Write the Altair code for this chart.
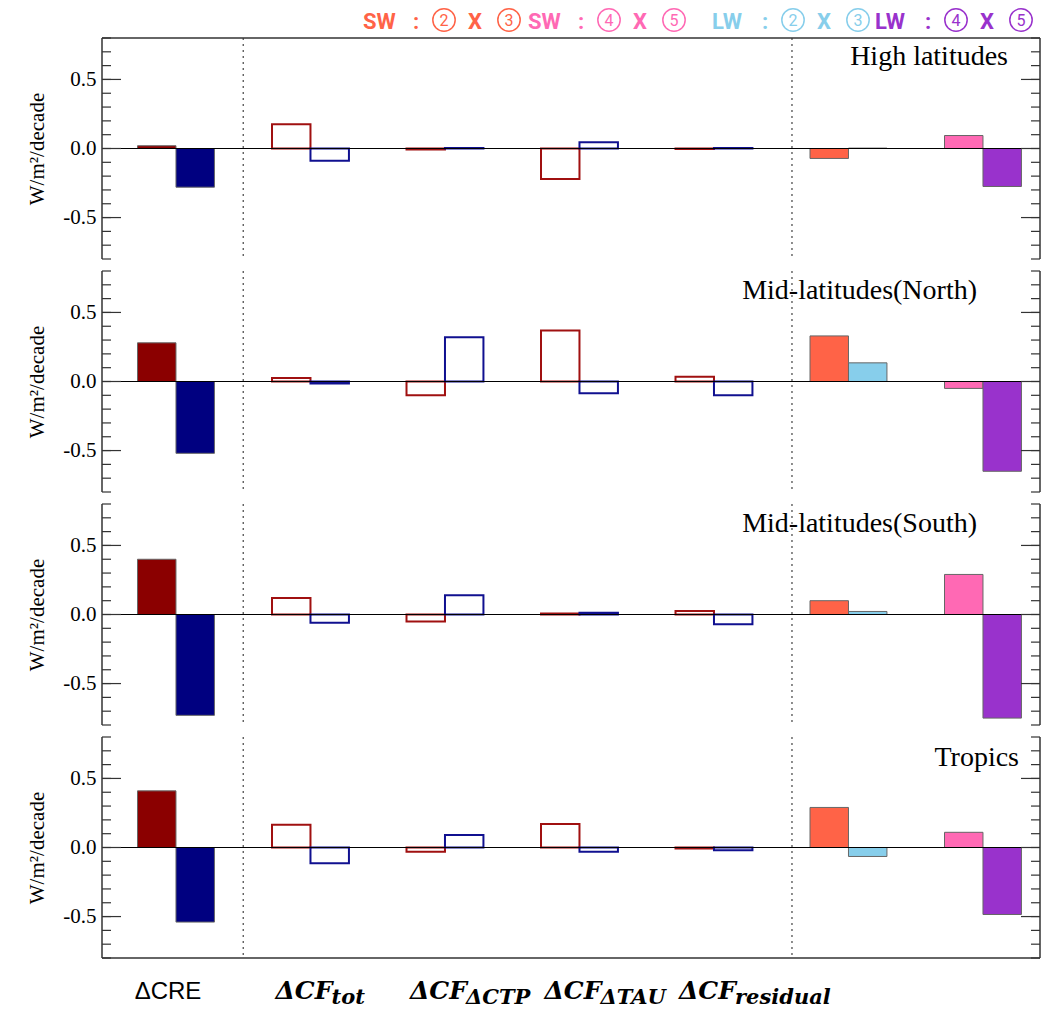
import altair as alt
import pandas as pd

regions = ["High latitudes", "Mid-latitudes(North)", "Mid-latitudes(South)", "Tropics"]
cre_sw = [0.02, 0.28, 0.40, 0.41]
cre_lw = [-0.28, -0.52, -0.73, -0.54]
tot_sw = [0.175, 0.025, 0.12, 0.165]
tot_lw = [-0.088, -0.015, -0.06, -0.114]
ctp_sw = [-0.008, -0.10, -0.05, -0.03]
ctp_lw = [0.004, 0.32, 0.14, 0.09]
tau_sw = [-0.22, 0.37, 0.007, 0.17]
tau_lw = [0.045, -0.085, 0.013, -0.03]
res_sw = [-0.003, 0.035, 0.025, -0.007]
res_lw = [0.003, -0.10, -0.07, -0.02]
sw23 = [-0.072, 0.33, 0.10, 0.29]
lw23 = [0.003, 0.135, 0.022, -0.065]
sw45 = [0.094, -0.05, 0.29, 0.11]
lw45 = [-0.275, -0.65, -0.75, -0.485]

cre_label = "ΔCRE"
cf_main = ["ΔCF", "ΔCF", "ΔCF", "ΔCF"]
cf_sub = ["tot", "ΔCTP", "ΔTAU", "residual"]
cf_groups = [1, 2, 3, 4]
legend_prefix = ["SW", "SW", "LW", "LW"]
legend_d1 = ["2", "4", "2", "4"]
legend_d2 = ["3", "5", "3", "5"]
legend_colors = ["#ff6347", "#ff69b4", "#87ceeb", "#9932cc"]
separators = [0.5, 4.58]
minor_ticks = [-0.8, -0.7, -0.6, -0.5, -0.4, -0.3, -0.2, -0.1, 0.0,
               0.1, 0.2, 0.3, 0.4, 0.5, 0.6, 0.7, 0.8]
major_ticks = [-0.5, 0.0, 0.5]

series_names = ["CRE SW", "CRE LW", "CF SW", "CF LW", "SW 2x3", "LW 2x3", "SW 4x5", "LW 4x5"]
series_colors = ["#8b0000", "#000080", "#a01010", "#101090", "#ff6347", "#87ceeb", "#ff69b4", "#9932cc"]

W = 938
H = 221
BW = 0.286

rows = []
for p in range(4):
    pairs = [
        (0, cre_sw[p], cre_lw[p], "CRE SW", "CRE LW", True),
        (1, tot_sw[p], tot_lw[p], "CF SW", "CF LW", False),
        (2, ctp_sw[p], ctp_lw[p], "CF SW", "CF LW", False),
        (3, tau_sw[p], tau_lw[p], "CF SW", "CF LW", False),
        (4, res_sw[p], res_lw[p], "CF SW", "CF LW", False),
        (5, sw23[p], lw23[p], "SW 2x3", "LW 2x3", True),
        (6, sw45[p], lw45[p], "SW 4x5", "LW 4x5", True),
    ]
    for g, a, b, sa, sb, filled in pairs:
        rows.append(dict(panel=p, x0=g - BW, x1=g, v=a, base=0.0, series=sa, filled=filled))
        rows.append(dict(panel=p, x0=g, x1=g + BW, v=b, base=0.0, series=sb, filled=filled))
bars = pd.DataFrame(rows)

xscale = alt.Scale(domain=[-0.55, 6.424], nice=False, zero=False)
yscale = alt.Scale(domain=[-0.8, 0.8], nice=False, zero=False)
cscale = alt.Scale(domain=series_names, range=series_colors)

yaxis = alt.Axis(
    title="W/m²/decade", values=major_ticks, grid=False, ticks=False, tickSize=0,
    domain=False, labelPadding=6, minExtent=44, maxExtent=44, titlePadding=11,
    labelFont="Liberation Serif", labelFontSize=21, labelColor="black",
    titleFont="Liberation Serif", titleFontSize=21, titleFontWeight="normal", titleColor="black",
    labelExpr="datum.value < 0 ? '-' + format(-datum.value, '.1f') : format(datum.value, '.1f')",
)

one = pd.DataFrame({"a": [0]})


def txt(text, x, y, align="left", baseline="alphabetic", **kw):
    return alt.Chart(pd.DataFrame({"t": [text]})).mark_text(
        align=align, baseline=baseline, **kw
    ).encode(text="t:N", x=alt.value(x), y=alt.value(y))


def circle(x, y, c):
    return alt.Chart(one).mark_point(
        shape="circle", filled=False, size=500, strokeWidth=1.5, color=c, opacity=1
    ).encode(x=alt.value(x), y=alt.value(y))


def panel(p):
    d = bars[bars.panel == p]
    filled = alt.Chart(d[d.filled]).mark_rect(stroke="#666666", strokeWidth=1).encode(
        x=alt.X("x0:Q", scale=xscale, axis=None),
        x2="x1:Q",
        y=alt.Y("v:Q", scale=yscale, axis=yaxis),
        y2="base:Q",
        color=alt.Color("series:N", scale=cscale, legend=None),
    )
    hollow = alt.Chart(d[~d.filled]).mark_rect(filled=False, strokeWidth=2).encode(
        x=alt.X("x0:Q", scale=xscale, axis=None),
        x2="x1:Q",
        y=alt.Y("v:Q", scale=yscale, axis=yaxis),
        y2="base:Q",
        color=alt.Color("series:N", scale=cscale, legend=None),
    )
    seps = alt.Chart(pd.DataFrame({"s": separators})).mark_rule(
        color="#444444", strokeDash=[2, 4], strokeWidth=1.2
    ).encode(x=alt.X("s:Q", scale=xscale, axis=None), y=alt.value(0), y2=alt.value(H))
    zero = alt.Chart(one).mark_rule(color="black", strokeWidth=1).encode(
        y=alt.Y(datum=0, scale=yscale, axis=yaxis), x=alt.value(0), x2=alt.value(W)
    )
    tdf = pd.DataFrame({"v": minor_ticks})
    mdf = pd.DataFrame({"v": major_ticks})
    tick_layers = []
    for df_, ln in ((tdf, 9), (mdf, 19)):
        tick_layers.append(alt.Chart(df_).mark_rule(color="#333333", strokeWidth=1.2).encode(
            y=alt.Y("v:Q", scale=yscale, axis=yaxis), x=alt.value(0), x2=alt.value(ln)))
        tick_layers.append(alt.Chart(df_).mark_rule(color="#333333", strokeWidth=1.2).encode(
            y=alt.Y("v:Q", scale=yscale, axis=yaxis), x=alt.value(W), x2=alt.value(W - ln)))
    borders = [
        alt.Chart(one).mark_rule(color="#333333", strokeWidth=1.5).encode(
            x=alt.value(0), y=alt.value(0), y2=alt.value(H)),
        alt.Chart(one).mark_rule(color="#333333", strokeWidth=1.5).encode(
            x=alt.value(W), y=alt.value(0), y2=alt.value(H)),
    ]
    if p == 0:
        borders.append(alt.Chart(one).mark_rule(color="#333333", strokeWidth=1.5).encode(
            x=alt.value(0), x2=alt.value(W), y=alt.value(0)))
    if p == 3:
        borders.append(alt.Chart(one).mark_rule(color="#333333", strokeWidth=1.5).encode(
            x=alt.value(0), x2=alt.value(W), y=alt.value(H)))
    title_x = [906, 875, 875, 917][p]
    title_y = [27, 28, 28, 29][p]
    title = alt.Chart(pd.DataFrame({"t": [regions[p]]})).mark_text(
        align="right", baseline="alphabetic", font="Liberation Serif", fontSize=28, color="black"
    ).encode(text="t:N", x=alt.value(title_x), y=alt.value(title_y))

    layers = [seps, filled, hollow, zero] + tick_layers + borders + [title]

    if p == 0:
        leg_x = [261, 426, 610, 773]
        bold = dict(font="Roboto", fontWeight="bold", fontSize=22)
        digit = dict(font="Roboto", fontWeight="normal", fontSize=16)
        cy = -18
        for pre, d1, d2, c, lx in zip(legend_prefix, legend_d1, legend_d2, legend_colors, leg_x):
            layers.append(txt(pre, lx, -9, color=c, **bold))
            layers.append(txt(":", lx + 50, -9, color=c, **bold))
            layers.append(circle(lx + 81, cy, c))
            layers.append(txt(d1, lx + 81, cy + 0.5, align="center", baseline="middle", color=c, **digit))
            layers.append(txt("X", lx + 105, -9, color=c, **bold))
            layers.append(circle(lx + 146, cy, c))
            layers.append(txt(d2, lx + 146, cy + 0.5, align="center", baseline="middle", color=c, **digit))
    if p == 3:
        layers.append(alt.Chart(pd.DataFrame({"g": [0], "t": [cre_label]})).mark_text(
            align="center", baseline="alphabetic", font="Liberation Sans", fontSize=24,
            color="black", dx=-8
        ).encode(text="t:N", x=alt.X("g:Q", scale=xscale, axis=None), y=alt.value(H + 41)))
        lab = pd.DataFrame({"g": cf_groups, "m": cf_main, "s": cf_sub})
        layers.append(alt.Chart(lab).mark_text(
            align="left", baseline="alphabetic", font="DejaVu Serif", fontWeight="bold",
            fontStyle="italic", fontSize=25, color="black", dx=-35
        ).encode(text="m:N", x=alt.X("g:Q", scale=xscale, axis=None), y=alt.value(H + 41)))
        layers.append(alt.Chart(lab).mark_text(
            align="left", baseline="alphabetic", font="DejaVu Serif", fontWeight="bold",
            fontStyle="italic", fontSize=21, color="black", dx=21
        ).encode(text="s:N", x=alt.X("g:Q", scale=xscale, axis=None), y=alt.value(H + 46)))

    return alt.layer(*layers).properties(width=W, height=H)


chart = alt.vconcat(*[panel(p) for p in range(4)], spacing=10).properties(
    padding={"left": 18, "top": -3, "right": 0, "bottom": 0}
).configure_view(stroke=None)

chart.save("out.html", embed_options={"renderer": "svg", "actions": False})
